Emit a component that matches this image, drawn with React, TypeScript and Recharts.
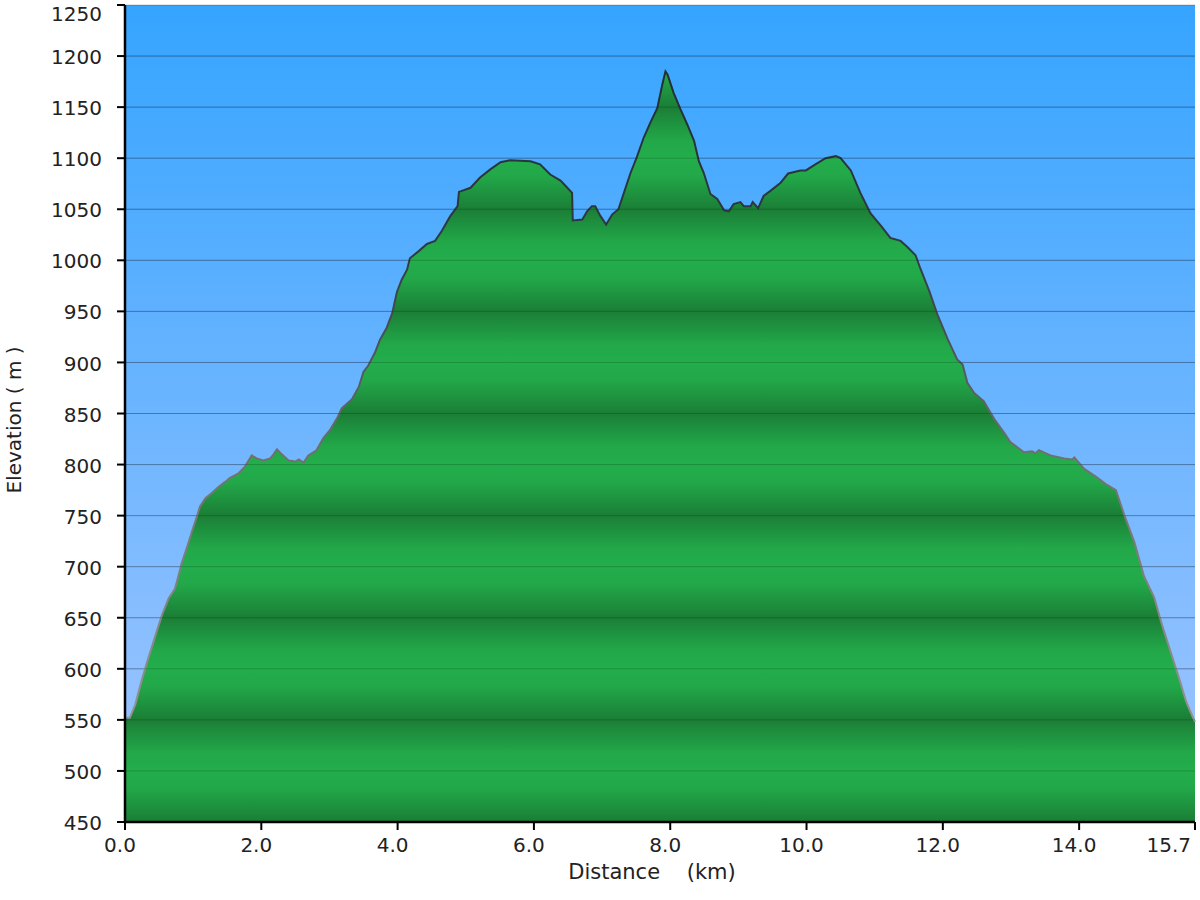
// Höhenprofil: Elevation over distance (Recharts area chart)
import { AreaChart, Area, XAxis, YAxis, CartesianGrid, ReferenceLine, Label } from 'recharts';

// distance in km
const distances = [
  0, 0.07, 0.15, 0.25, 0.34, 0.44, 0.54, 0.64, 0.73, 0.78, 0.83, 0.91, 0.98, 1.05, 1.1, 1.18,
  1.27, 1.37, 1.47, 1.54, 1.66, 1.76, 1.86, 1.93, 2.03, 2.13, 2.18, 2.23, 2.3, 2.4, 2.5, 2.55,
  2.62, 2.69, 2.81, 2.91, 3.01, 3.11, 3.18, 3.33, 3.43, 3.5, 3.57, 3.67, 3.74, 3.84, 3.92, 3.99,
  4.06, 4.14, 4.18, 4.31, 4.43, 4.55, 4.65, 4.77, 4.88, 4.9, 5.07, 5.21, 5.36, 5.51, 5.65, 5.95,
  6.09, 6.24, 6.39, 6.49, 6.56, 6.57, 6.71, 6.78, 6.85, 6.9, 6.97, 7.06, 7.15, 7.24, 7.32, 7.42,
  7.51, 7.61, 7.71, 7.81, 7.88, 7.93, 7.96, 8.05, 8.15, 8.25, 8.35, 8.42, 8.49, 8.59, 8.69, 8.79,
  8.86, 8.93, 9.03, 9.08, 9.18, 9.21, 9.29, 9.37, 9.47, 9.62, 9.73, 9.91, 9.99, 10.13, 10.28,
  10.43, 10.5, 10.65, 10.79, 10.94, 11.09, 11.23, 11.38, 11.48, 11.6, 11.67, 11.8, 11.92, 12.07,
  12.21, 12.29, 12.36, 12.46, 12.6, 12.75, 12.9, 12.99, 13.19, 13.31, 13.36, 13.41, 13.58, 13.78,
  13.9, 13.93, 14.07, 14.27, 14.41, 14.54, 14.66, 14.81, 14.95, 15.1, 15.22, 15.35, 15.47, 15.57,
  15.66, 15.7,
];

// elevation in m
const elevations = [
  552, 552, 565, 590, 610, 631, 652, 669, 678, 690, 703, 719, 734, 748, 759, 767,
  772, 778, 783, 787, 791, 798, 809, 806, 804, 806, 810, 815, 810, 804, 803, 805,
  802, 809, 814, 826, 834, 845, 855, 864, 876, 891, 897, 910, 922, 934, 948, 969,
  981, 991, 1002, 1009, 1016, 1019, 1029, 1043, 1053, 1067, 1071, 1081, 1089, 1096, 1098, 1097,
  1094, 1084, 1078, 1071, 1066, 1039, 1040, 1048, 1053, 1053, 1044, 1035, 1045, 1050, 1066, 1086,
  1101, 1120, 1135, 1149, 1171, 1185, 1182, 1164, 1148, 1133, 1117, 1097, 1086, 1065, 1060, 1049,
  1048, 1055, 1057, 1053, 1053, 1057, 1051, 1063, 1068, 1076, 1085, 1088, 1088, 1094, 1100,
  1102, 1100, 1088, 1066, 1046, 1034, 1022, 1019, 1013, 1005, 992, 970, 947, 923,
  903, 898, 880, 870, 862, 845, 831, 822, 812, 813, 811, 814, 809, 806,
  805, 807, 796, 787, 780, 775, 751, 724, 691, 670, 642, 615, 590, 568,
  554, 548,
];

const xTicks = [0, 2, 4, 6, 8, 10, 12, 14, 15.7];
const yTicks = [450, 500, 550, 600, 650, 700, 750, 800, 850, 900, 950, 1000, 1050, 1100, 1150, 1200, 1250];

const FONT = '"DejaVu Sans", Verdana, sans-serif';
const TEXT_COLOR = '#222';

const data = distances.map((d, i) => ({ dist: d, elev: elevations[i] }));

function XTick(props: any) {
  const { x, y, payload } = props;
  const last = payload.value === 15.7;
  return (
    <text
      x={last ? x - 4 : x - 5}
      y={y}
      dy="0.71em"
      textAnchor={last ? 'end' : 'middle'}
      fontFamily={FONT}
      fontSize={20}
      fill={TEXT_COLOR}
    >
      {Number(payload.value).toFixed(1)}
    </text>
  );
}

function YTick(props: any) {
  const { x, y, payload } = props;
  return (
    <text
      x={x}
      y={Math.max(y + 1, 14)}
      dy="0.355em"
      textAnchor="end"
      fontFamily={FONT}
      fontSize={20}
      fill={TEXT_COLOR}
    >
      {payload.value}
    </text>
  );
}

export default function App() {
  return (
    <div style={{ position: 'absolute', left: 0, top: 0, width: 1200, height: 900, background: '#fff' }}>
      <AreaChart width={1200} height={900} data={data} margin={{ top: 5, right: 5, left: 0, bottom: 0 }}>
        <defs>
          <linearGradient id="sky" x1="0" y1="0" x2="0" y2="1">
            <stop offset="0%" stopColor="#35a4ff" />
            <stop offset="100%" stopColor="#a3c6ff" />
          </linearGradient>
          {/* bands: light at every 100 m, dark at the 50 m lines in between */}
          <linearGradient id="bands" gradientUnits="userSpaceOnUse" x1="0" y1="260.3" x2="0" y2="311.3" spreadMethod="reflect">
            <stop offset="0%" stopColor="#23ad4b" />
            <stop offset="35%" stopColor="#22a849" />
            <stop offset="100%" stopColor="#1b7e36" />
          </linearGradient>
          <linearGradient id="edge" gradientUnits="userSpaceOnUse" x1="0" y1="5" x2="0" y2="822">
            <stop offset="0%" stopColor="#1f2a30" />
            <stop offset="30%" stopColor="#2f3a42" />
            <stop offset="55%" stopColor="#707070" />
            <stop offset="100%" stopColor="#a0a0a0" />
          </linearGradient>
        </defs>
        <CartesianGrid vertical={false} fill="url(#sky)" stroke="#000" strokeOpacity={0.2} />
        <XAxis
          dataKey="dist"
          type="number"
          domain={[0, 15.7]}
          ticks={xTicks}
          interval={0}
          height={78}
          tickSize={8}
          tickMargin={8}
          tick={<XTick />}
          axisLine={{ stroke: '#000', strokeWidth: 2.5 }}
          tickLine={{ stroke: '#000', strokeWidth: 2 }}
          label={
            <Label
              content={() => (
                <text
                  x={652}
                  y={872}
                  textAnchor="middle"
                  dominantBaseline="central"
                  fontFamily={FONT}
                  fontSize={21}
                  fill={TEXT_COLOR}
                  style={{ whiteSpace: 'pre' }}
                >
                  {'Distance    (km)'}
                </text>
              )}
            />
          }
        />
        <YAxis
          type="number"
          domain={[450, 1250]}
          ticks={yTicks}
          interval={0}
          width={125}
          tickSize={8}
          tickMargin={15}
          tick={<YTick />}
          axisLine={{ stroke: '#000', strokeWidth: 2.5 }}
          tickLine={{ stroke: '#000', strokeWidth: 2 }}
          allowDataOverflow
          label={
            <Label
              content={() => (
                <text
                  x={14}
                  y={420}
                  transform="rotate(-90 14 420)"
                  textAnchor="middle"
                  dominantBaseline="central"
                  fontFamily={FONT}
                  fontSize={20}
                  fill={TEXT_COLOR}
                  style={{ whiteSpace: 'pre' }}
                >
                  {'Elevation ( m )'}
                </text>
              )}
            />
          }
        />
        <Area
          type="linear"
          dataKey="elev"
          fill="url(#bands)"
          fillOpacity={1}
          stroke="url(#edge)"
          strokeWidth={2}
          isAnimationActive={false}
          dot={false}
          activeDot={false}
        />
        {yTicks.slice(1, -1).map((v) => (
          <ReferenceLine key={v} y={v} stroke="#000" strokeOpacity={0.18} strokeWidth={1} />
        ))}
      </AreaChart>
    </div>
  );
}
